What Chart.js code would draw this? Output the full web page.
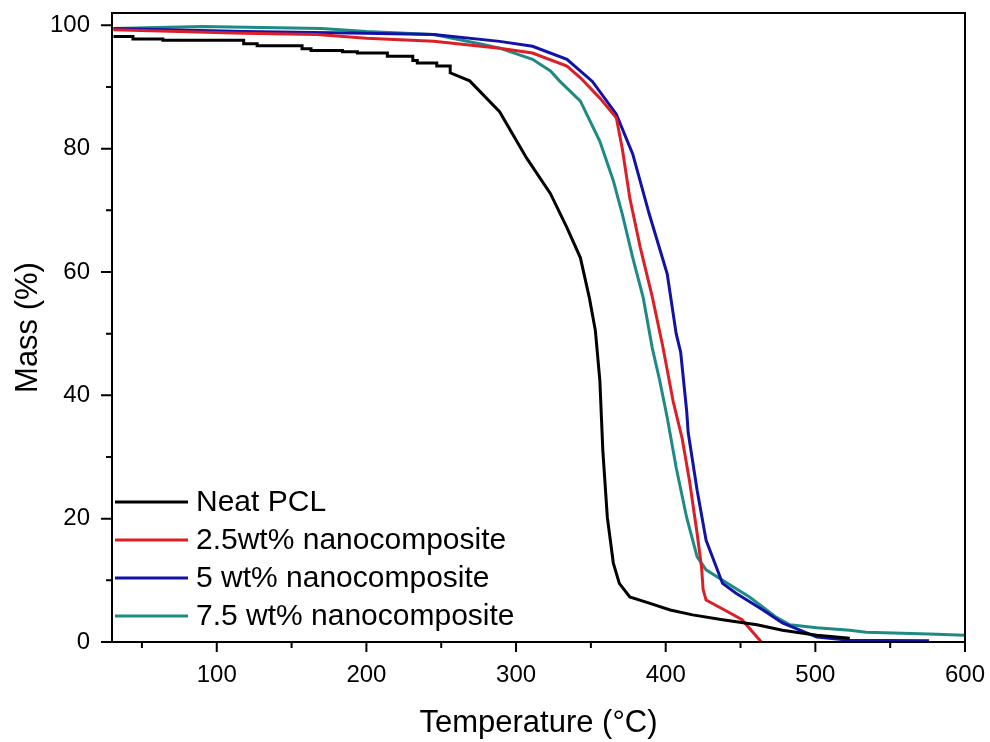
<!DOCTYPE html>
<html><head><meta charset="utf-8">
<script src="https://cdn.jsdelivr.net/npm/chart.js@4/dist/chart.umd.min.js"></script>
<style>html,body{margin:0;padding:0;background:#fff}#wrap{width:990px;height:742px}</style>
</head><body><div id="wrap"><canvas id="c" width="990" height="742"></canvas></div>
<script>
const seriesLabels = ["Neat PCL", "2.5wt% nanocomposite", "5 wt% nanocomposite", "7.5 wt% nanocomposite"];
const seriesColors = ["#000000", "#dc1f26", "#1212a6", "#1e8a84"];
const xTicks = [100, 200, 300, 400, 500, 600];
const yTicks = [0, 20, 40, 60, 80, 100];

const neatT = [31,44,44,64,64,118,118,127,127,157,157,163,163,184,184,194,194,214,214,231,231,234,234,247,247,256,256,269,289,307,323,334,343,349,353,356,358,361,365,369,376,389,403,418,438,461,478,501,523];
const neatM = [98.2,98.2,97.8,97.8,97.6,97.6,97.0,97.0,96.7,96.7,96.2,96.2,95.9,95.9,95.7,95.7,95.5,95.5,95.0,95.0,94.3,94.3,93.9,93.9,93.4,93.4,92.3,91.0,86.0,78.5,72.7,67.2,62.3,55.8,50.5,42.4,31.0,20.2,12.8,9.5,7.3,6.3,5.2,4.4,3.6,2.8,1.9,1.1,0.6];

const p25T = [31,118,167,200,245,289,311,334,343,356,367,371,376,383,391,398,405,411,416,421,424,425,427,443,451,461,464];
const p25M = [99.3,98.7,98.5,97.9,97.4,96.3,95.5,93.4,91.5,88.2,85.0,80.0,72.0,64.0,56.0,48.0,39.0,33.0,26.0,17.6,12.0,8.5,6.8,4.7,3.6,0.8,0.0];

const p5T = [31,118,200,245,289,311,334,351,367,378,389,401,407,410,414,415,421,427,438,447,465,478,501,523,576];
const p5M = [99.5,99.0,98.7,98.5,97.4,96.6,94.5,90.9,85.6,79.1,69.4,59.7,50.0,47.0,37.5,34.0,24.6,16.5,9.5,7.9,5.2,3.1,0.8,0.3,0.2];

const p75T = [31,90,170,200,245,278,289,311,323,329,343,356,365,371,378,385,391,396,401,407,414,421,427,438,456,474,483,501,523,534,576,600];
const p75M = [99.5,99.8,99.5,99.0,98.5,96.9,96.3,94.5,92.6,91.0,87.7,81.2,74.8,69.4,62.3,55.8,47.7,42.4,36.4,28.3,20.2,13.8,11.7,10.0,7.3,4.0,2.8,2.3,1.9,1.6,1.3,1.1];

function pts(t, m){ return t.map((v,i)=>({x:v, y:m[i]})); }
const allT = [neatT, p25T, p5T, p75T];
const allM = [neatM, p25M, p5M, p75M];

const FONT = "'Liberation Sans', Arial, sans-serif";

const framePlugin = {
  id: 'frame',
  afterDraw(chart){
    const {ctx, chartArea:a, scales:{x, y}} = chart;
    ctx.save();
    ctx.strokeStyle = '#000';
    ctx.lineWidth = 2;
    ctx.strokeRect(a.left, a.top, a.right - a.left, a.bottom - a.top);
    ctx.beginPath();
    for (let v = 50; v <= 600; v += 50) {
      const px = x.getPixelForValue(v);
      const len = (v % 100 === 0) ? 10 : 6;
      ctx.moveTo(px, a.bottom); ctx.lineTo(px, a.bottom + len);
    }
    for (let v = 0; v <= 100; v += 10) {
      const py = y.getPixelForValue(v);
      const len = (v % 20 === 0) ? 11 : 6;
      ctx.moveTo(a.left, py); ctx.lineTo(a.left - len, py);
    }
    ctx.stroke();
    // legend
    ctx.font = '30px ' + FONT;
    ctx.textBaseline = 'middle';
    ctx.textAlign = 'left';
    const rows = [502, 540, 578, 616];
    chart.data.datasets.forEach((ds, i) => {
      ctx.strokeStyle = ds.borderColor;
      ctx.lineWidth = 3;
      ctx.beginPath(); ctx.moveTo(115, rows[i]); ctx.lineTo(188, rows[i]); ctx.stroke();
      ctx.fillStyle = '#000';
      ctx.fillText(ds.label, 196, rows[i] + 1);
    });
    ctx.restore();
  }
};

function zeroPad(s){ s.paddingTop = 0; s.paddingBottom = 0; s.paddingLeft = 0; s.paddingRight = 0; }

new Chart(document.getElementById('c'), {
  type: 'line',
  data: {
    datasets: seriesLabels.map((lab, i) => ({
      label: lab,
      data: pts(allT[i], allM[i]),
      borderColor: seriesColors[i],
      backgroundColor: seriesColors[i],
      borderWidth: 3,
      pointRadius: 0,
      tension: 0,
      fill: false
    }))
  },
  options: {
    responsive: false,
    animation: false,
    layout: { padding: { top: 13, right: 25, left: 0, bottom: 0 } },
    plugins: { legend: { display: false }, tooltip: { enabled: false } },
    scales: {
      x: {
        type: 'linear', min: 30, max: 600,
        afterBuildTicks(s){ s.ticks = xTicks.map(v => ({value: v})); },
        afterFit(s){ s.height = 100; zeroPad(s); },
        grid: { display: false, drawTicks: false },
        border: { display: false },
        ticks: { color: '#000', font: { family: FONT, size: 24 }, padding: 19, maxRotation: 0 },
        title: { display: true, text: 'Temperature (°C)', color: '#000', font: { family: FONT, size: 31 }, padding: 0 }
      },
      y: {
        type: 'linear', min: 0, max: 102,
        afterBuildTicks(s){ s.ticks = yTicks.map(v => ({value: v})); },
        afterFit(s){ s.width = 112; zeroPad(s); },
        grid: { display: false, drawTicks: false },
        border: { display: false },
        ticks: { color: '#000', font: { family: FONT, size: 24 }, padding: 22 },
        title: { display: true, text: 'Mass (%)', color: '#000', font: { family: FONT, size: 31 }, padding: 10 }
      }
    }
  },
  plugins: [framePlugin]
});
</script>
</body></html>
